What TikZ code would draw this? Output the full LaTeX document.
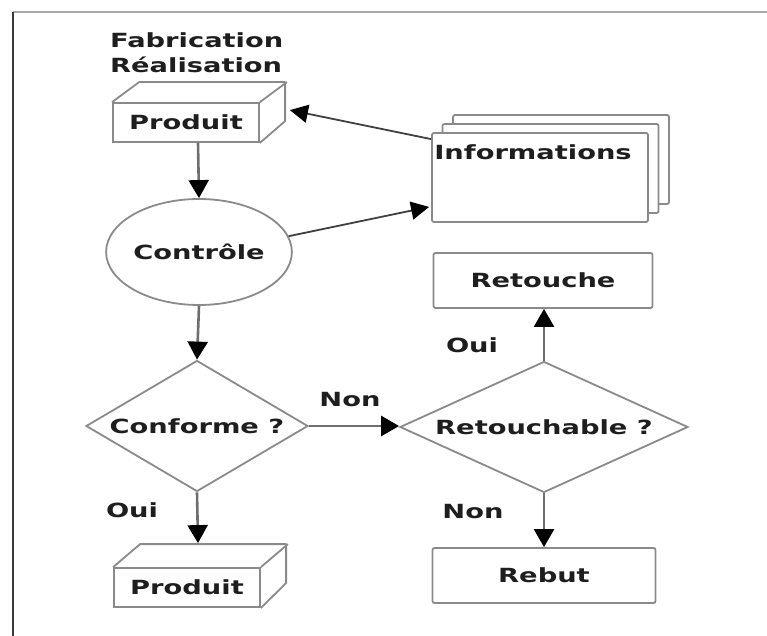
\documentclass[tikz,border=0pt]{standalone}
\usepackage{fontspec}
\usepackage{graphicx}
\newfontfamily\dgfont[FakeStretch=1.4]{DejaVu Sans}
\usetikzlibrary{shapes.geometric,arrows.meta,shadows,calc}

\definecolor{ink}{HTML}{1E1E1E}
\definecolor{outline}{HTML}{8A8A8A}
\definecolor{shaft}{HTML}{6E6E6E}
\definecolor{rimtop}{HTML}{A8A8A8}
\definecolor{rimleft}{HTML}{3A3A3A}

\begin{document}
\begin{tikzpicture}[x=1pt,y=-1pt,
  every node/.style={font=\dgfont\bfseries\fontsize{19.5}{25}\selectfont, text=ink},
  shapeline/.style={draw=outline, line width=1.8pt},
  facebox/.style={shapeline, rectangle, inner sep=0pt, minimum width=146pt, minimum height=39pt},
  plainbox/.style={shapeline, rectangle, rounded corners=2pt, inner sep=0pt, minimum height=55pt},
  decision/.style={shapeline, diamond, inner sep=0pt, minimum height=131pt},
  flow/.style={draw=shaft, line width=2.6pt, -{Triangle[length=18pt,width=20pt,color=black]}},
  link/.style={draw=ink!85, line width=1.8pt, -{Triangle[length=18pt,width=18pt,color=black]}},
  tag/.style={inner sep=0pt}
]
\useasboundingbox (0,0) rectangle (767,636);

% frame edges
\draw[rimtop, line width=1.5pt] (13,12) -- (767,12);
\draw[rimleft, line width=1.5pt] (13,12) -- (13,636);

% heading
\node[tag, anchor=west, align=left] (fab) at (110,53) {Fabrication\\Réalisation};

% incoming product box
\node[facebox] (p1) at (186,122.5) {Produit};
\draw[shapeline, line join=round] (p1.north west) -- ++(27,-20) -- ++(146,0) -- ++(0,39) -- (p1.south east);
\draw[shapeline] (p1.north east) -- ++(27,-20);

% stacked information sheets
\node[shapeline, fill=white, rounded corners=2pt, minimum width=216pt, minimum height=89pt,
      double copy shadow={shadow xshift=10.5pt, shadow yshift=9pt}] (info) at (540,177.5) {};
\node[tag] (infotxt) at (533,152) {Informations};

% inspection
\node[shapeline, ellipse, inner sep=0pt, minimum width=178pt, minimum height=106pt] (ctrl) at (199,252) {Contrôle};

% decisions
\node[decision, aspect=1.75, minimum width=222pt] (conf) at (197,426) {Conforme ?};
\node[decision, aspect=2.2, minimum width=288pt] (retb) at (544,427) {Retouchable ?};

% outcomes
\node[plainbox, minimum width=219pt] (ret) at (543,280.5) {Retouche};
\node[plainbox, minimum width=223pt] (rebut) at (544,575.5) {Rebut};

\node[facebox] (p2) at (187,587.5) {Produit};
\draw[shapeline, line join=round] (p2.north west) -- ++(27,-23) -- ++(146,0) -- ++(0,39) -- (p2.south east);
\draw[shapeline] (p2.north east) -- ++(27,-23);

% connectors
\draw[flow] ($(p1.south)+(12,0)$) -- (ctrl.north);
\draw[flow] (ctrl.south) -- (conf.north);
\draw[flow] (conf.east) -- (conf.east -| retb.west);
\draw[flow] (retb.north) -- (retb.north |- ret.south);
\draw[flow] (retb.south) -- (retb.south |- rebut.north);
\draw[flow] (conf.south) -- ($(p2.north)+(11,-24)$);
\draw[link] ($(info.north west)+(0,7)$) -- ($(p1.north east)+(30,8)$);
\draw[link] (ctrl.10) -- ($(info.south west)+(-2,-16)$);

% branch labels
\node[tag] (lnon1) at (350,400) {Non};
\node[tag] (loui1) at (132,510) {Oui};
\node[tag] (loui2) at (472,345) {Oui};
\node[tag] (lnon2) at (473,512) {Non};
\end{tikzpicture}
\end{document}
